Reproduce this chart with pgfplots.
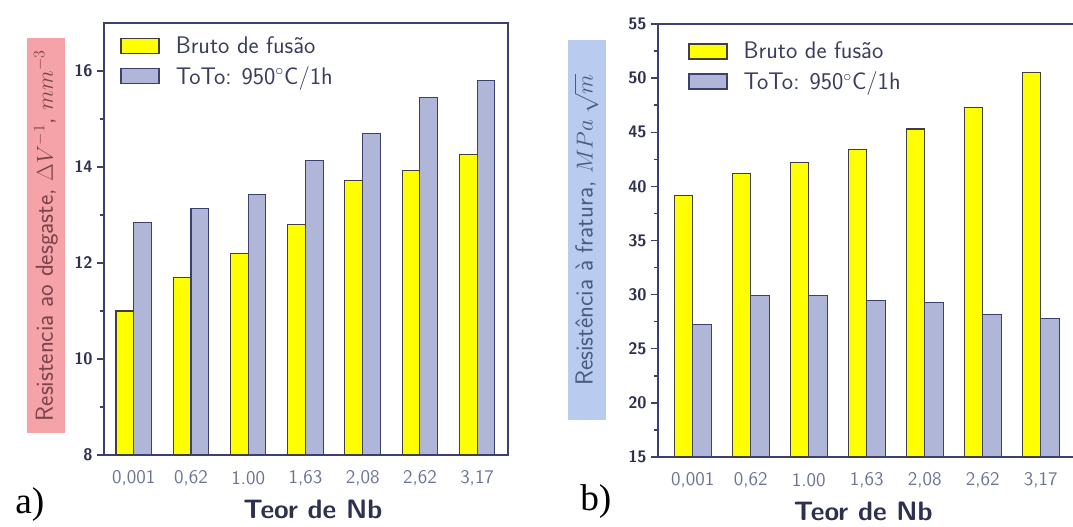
\documentclass[border=0pt]{standalone}
\usepackage{pgfplots}
\pgfplotsset{compat=1.18}
\usepackage{fontspec}
\newfontfamily\serifab{Liberation Serif}
\definecolor{axc}{HTML}{3C3F70}
\definecolor{yel}{HTML}{FFFF00}
\definecolor{blu}{HTML}{B0B6D8}
\definecolor{pinkbg}{HTML}{F5A3A8}
\definecolor{bluebg}{HTML}{B9CBEE}
\definecolor{labred}{HTML}{7A4448}
\definecolor{labblue}{HTML}{4A5A80}
\definecolor{xtc}{HTML}{6C7398}
\definecolor{ytc}{HTML}{2E3050}
\definecolor{legc}{HTML}{3A3D5C}
\pgfplotsset{mybar/.style={
  scale only axis, ybar=0pt,
  axis line style={axc, line width=1.5pt},
  tick style={axc, line width=1.1pt},
  major tick length=5pt, minor tick length=3pt,
  tick align=outside, ytick pos=left, xtick pos=bottom,
  xtick={0,...,6},
  xticklabels={{0,001},{0,62},{1.00},{1,63},{2,08},{2,62},{3,17}},
  x tick style={draw=none},
  minor y tick num=1,
  x tick label style={font=\sffamily\fontsize{14.5}{14.5}\selectfont, text=xtc, anchor=center, yshift=-12.5pt},
  yticklabel={\pgfmathparse{int(round(\tick))}\textsf{\textbf{\fontsize{12.5}{13}\selectfont\pgfmathresult}}},
  y tick label style={text=ytc},
  xlabel={Teor de Nb},
  x label style={font=\sffamily\bfseries\fontsize{20}{20}\selectfont, text=ytc, anchor=center},
  y label style={anchor=center, inner sep=0pt, minimum height=28.5pt},
  legend cell align=left,
  legend image code/.code={\draw[#1, line width=1pt] (0pt,-5.6pt) rectangle (28.5pt,5.6pt);},
  legend style={draw=none, fill=none, anchor=north west, font=\sffamily\fontsize{18}{18}\selectfont, text=legc, row sep=4pt, column sep=10pt, inner sep=0pt},
}}
\begin{document}
\begin{tikzpicture}
\useasboundingbox (0,0) rectangle (804.75pt,394.5pt);
\clip (0,0) rectangle (804.75pt,394.5pt);
\begin{axis}[mybar,
  at={(78pt,53.25pt)}, anchor=south west,
  width=303pt, height=324pt,
  xmin=-0.52, xmax=6.54, ymin=8, ymax=17,
  ytick={8,10,12,14,16},
  bar width=0.31,
  x label style={at={(axis description cs:0.517,0)}, yshift=-40.5pt},
  ylabel={Resistencia ao desgaste, $\Delta V^{-1}$, $mm^{-3}$},
  y label style={at={(axis description cs:-0.1436,0.508)}, fill=pinkbg, text=labred, font=\sffamily\fontsize{18.5}{18.5}\selectfont, minimum width=296pt},
  legend style={at={(axis description cs:0.04,0.975)}},
]
\addplot[fill=yel, draw=black!75, line width=0.8pt] coordinates {(0,11.0) (1,11.70) (2,12.20) (3,12.80) (4,13.71) (5,13.93) (6,14.26)};
\addplot[fill=blu, draw=axc, line width=0.8pt] coordinates {(0,12.85) (1,13.14) (2,13.43) (3,14.14) (4,14.70) (5,15.45) (6,15.81)};
\legend{Bruto de fusão, ToTo: 950$^{\circ}$C/1h}
\end{axis}
\begin{axis}[mybar,
  at={(493.5pt,51.75pt)}, anchor=south west,
  width=321.9pt, height=324.75pt,
  xmin=-0.6, xmax=6.8, ymin=15, ymax=55,
  ytick={15,20,...,55},
  bar width=0.32,
  x label style={at={(axis description cs:0.478,0)}, yshift=-40.5pt},
  ylabel={Resistência à fratura, $MPa\;\sqrt{m}$},
  y label style={at={(axis description cs:-0.1666,0.524)}, fill=bluebg, text=labblue, font=\sffamily\fontsize{18.5}{18.5}\selectfont, minimum width=285pt},
  legend style={at={(axis description cs:0.07,0.965)}},
]
\addplot[fill=yel, draw=black!75, line width=0.8pt] coordinates {(0,39.2) (1,41.2) (2,42.2) (3,43.4) (4,45.3) (5,47.3) (6,50.5)};
\addplot[fill=blu, draw=axc, line width=0.8pt] coordinates {(0,27.25) (1,29.95) (2,29.9) (3,29.5) (4,29.25) (5,28.2) (6,27.8)};
\legend{Bruto de fusão, ToTo: 950$^{\circ}$C/1h}
\end{axis}
\node[font=\serifab\fontsize{28}{28}\selectfont, anchor=base west, inner sep=0pt] at (11.25pt,9.75pt) {a)};
\node[font=\serifab\fontsize{28}{28}\selectfont, anchor=base west, inner sep=0pt] at (435pt,12pt) {b)};
\end{tikzpicture}
\end{document}
